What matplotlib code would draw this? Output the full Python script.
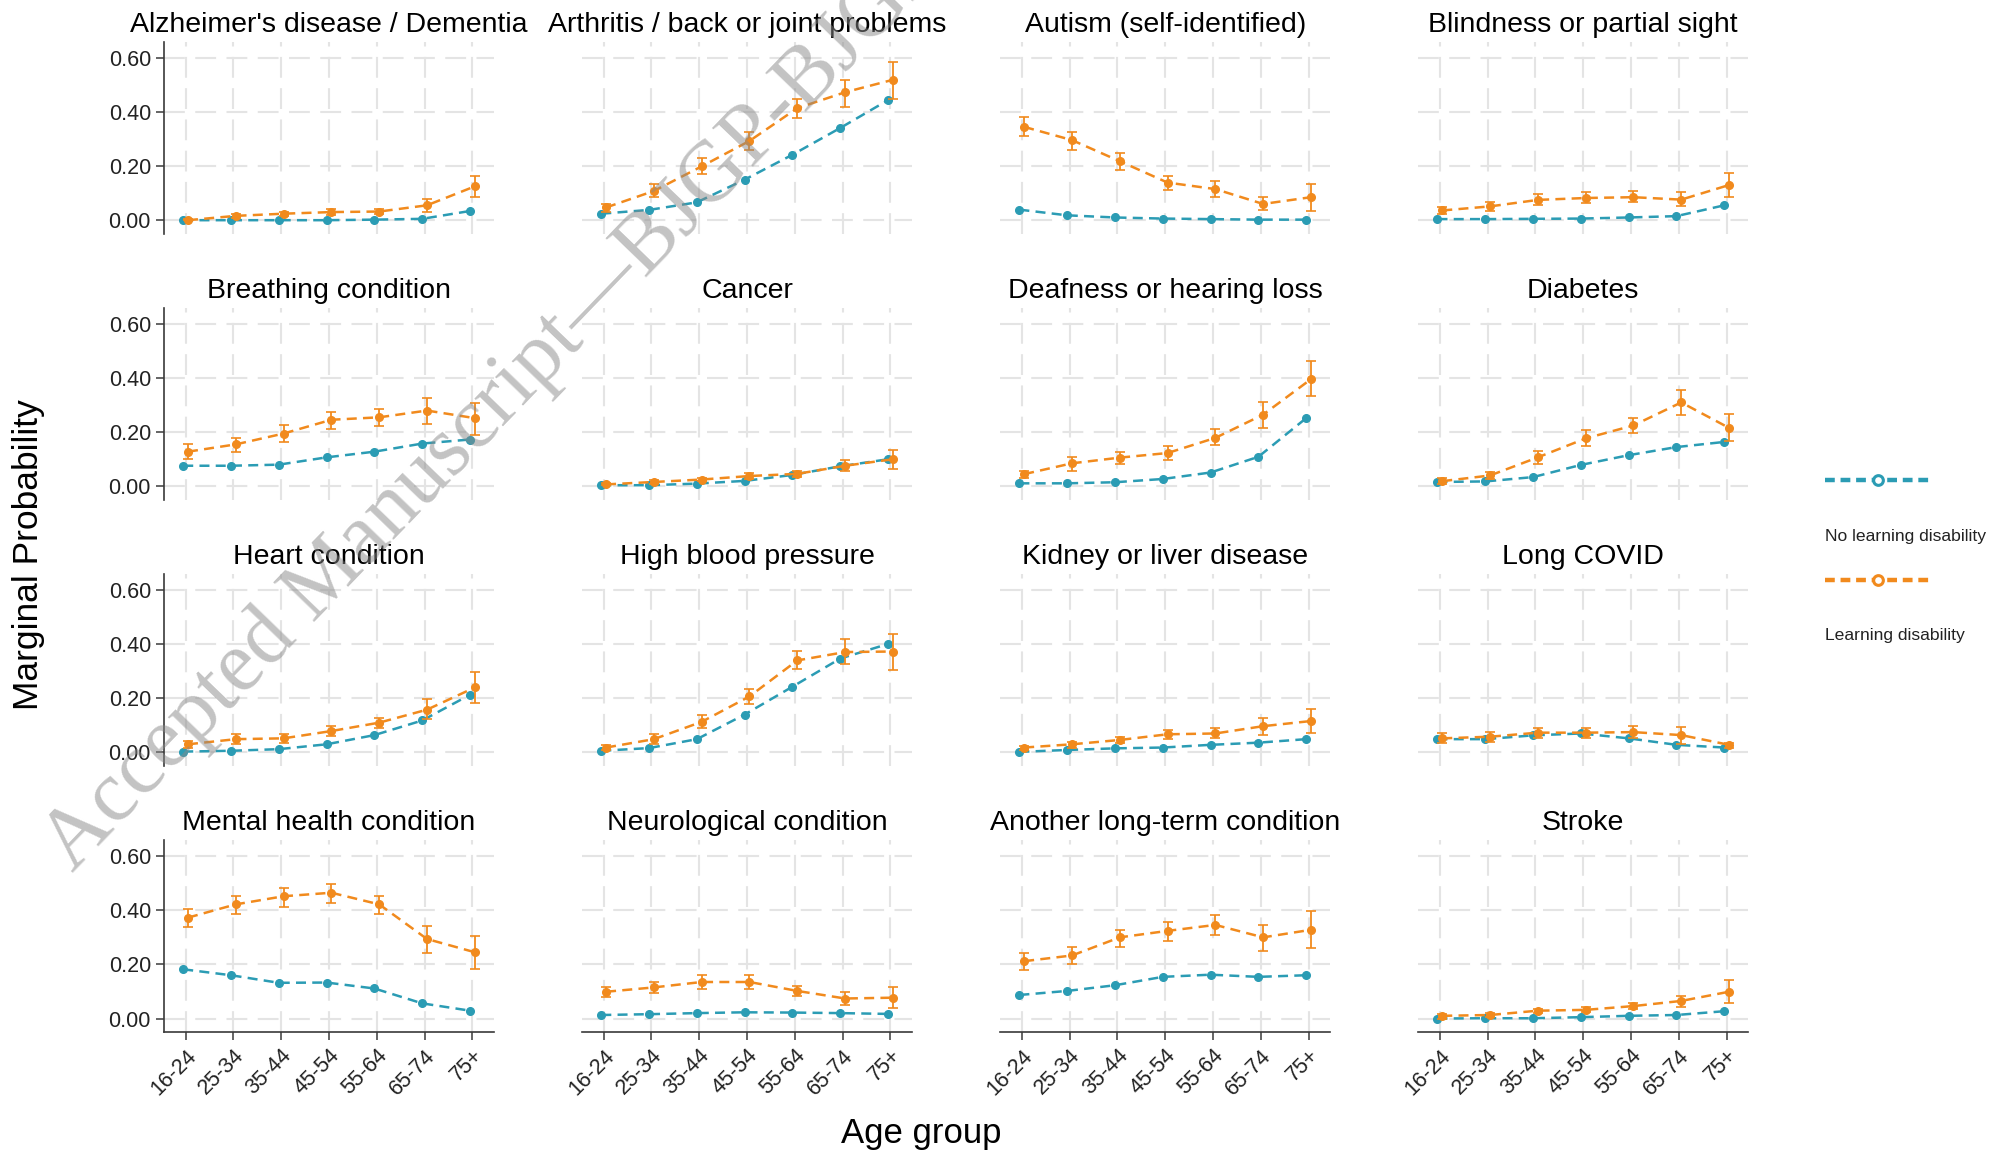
"""Marginal probability of long-term conditions by age group, with and without
learning disability (4x4 small multiples)."""
import matplotlib
matplotlib.use("Agg")
import matplotlib.pyplot as plt
import numpy as np

plt.rcParams["font.family"] = ["Liberation Sans", "DejaVu Sans"]

AGE_GROUPS = ["16-24", "25-34", "35-44", "45-54", "55-64", "65-74", "75+"]

CONDITIONS = [
    "Alzheimer's disease / Dementia", "Arthritis / back or joint problems",
    "Autism (self-identified)", "Blindness or partial sight",
    "Breathing condition", "Cancer", "Deafness or hearing loss", "Diabetes",
    "Heart condition", "High blood pressure", "Kidney or liver disease",
    "Long COVID", "Mental health condition", "Neurological condition",
    "Another long-term condition", "Stroke",
]

# no learning disability -- one row per condition, one value per age group
no_ld = [
    [0.000, 0.000, 0.000, 0.000, 0.002, 0.005, 0.034],
    [0.024, 0.038, 0.066, 0.150, 0.242, 0.341, 0.444],
    [0.039, 0.018, 0.010, 0.006, 0.004, 0.002, 0.002],
    [0.004, 0.004, 0.005, 0.006, 0.010, 0.015, 0.055],
    [0.076, 0.076, 0.080, 0.107, 0.128, 0.158, 0.173],
    [0.004, 0.004, 0.010, 0.020, 0.042, 0.074, 0.100],
    [0.011, 0.011, 0.015, 0.027, 0.051, 0.109, 0.252],
    [0.016, 0.018, 0.034, 0.079, 0.115, 0.145, 0.164],
    [0.003, 0.006, 0.012, 0.030, 0.064, 0.118, 0.213],
    [0.006, 0.016, 0.049, 0.140, 0.243, 0.347, 0.401],
    [0.002, 0.009, 0.015, 0.018, 0.028, 0.036, 0.049],
    [0.049, 0.049, 0.063, 0.070, 0.052, 0.028, 0.018],
    [0.182, 0.160, 0.132, 0.133, 0.111, 0.056, 0.029],
    [0.013, 0.016, 0.020, 0.023, 0.022, 0.020, 0.017],
    [0.087, 0.102, 0.123, 0.154, 0.162, 0.154, 0.160],
    [0.000, 0.001, 0.001, 0.005, 0.010, 0.013, 0.027],
]

# learning disability -- estimate and 95% CI bounds
ld = [
    [0.000, 0.016, 0.024, 0.030, 0.032, 0.055, 0.125],
    [0.047, 0.108, 0.199, 0.293, 0.414, 0.473, 0.519],
    [0.345, 0.296, 0.218, 0.139, 0.115, 0.060, 0.085],
    [0.036, 0.051, 0.075, 0.082, 0.085, 0.076, 0.130],
    [0.128, 0.155, 0.195, 0.246, 0.255, 0.280, 0.252],
    [0.007, 0.016, 0.025, 0.038, 0.046, 0.076, 0.100],
    [0.045, 0.085, 0.106, 0.123, 0.179, 0.265, 0.396],
    [0.019, 0.040, 0.107, 0.177, 0.225, 0.310, 0.216],
    [0.030, 0.049, 0.052, 0.079, 0.110, 0.158, 0.240],
    [0.018, 0.049, 0.113, 0.207, 0.340, 0.371, 0.373],
    [0.018, 0.030, 0.046, 0.067, 0.070, 0.097, 0.116],
    [0.052, 0.058, 0.073, 0.073, 0.075, 0.064, 0.028],
    [0.373, 0.422, 0.452, 0.465, 0.422, 0.294, 0.245],
    [0.099, 0.115, 0.135, 0.135, 0.102, 0.074, 0.077],
    [0.212, 0.233, 0.300, 0.324, 0.346, 0.300, 0.328],
    [0.010, 0.013, 0.029, 0.032, 0.046, 0.065, 0.099],
]
ld_lo = [
    [0.000, 0.008, 0.016, 0.020, 0.022, 0.030, 0.085],
    [0.031, 0.084, 0.170, 0.260, 0.377, 0.419, 0.449],
    [0.310, 0.260, 0.184, 0.113, 0.087, 0.039, 0.033],
    [0.022, 0.034, 0.055, 0.064, 0.067, 0.052, 0.085],
    [0.100, 0.128, 0.164, 0.210, 0.222, 0.230, 0.188],
    [0.003, 0.010, 0.018, 0.026, 0.036, 0.055, 0.064],
    [0.030, 0.057, 0.082, 0.098, 0.152, 0.216, 0.332],
    [0.010, 0.028, 0.082, 0.149, 0.198, 0.264, 0.167],
    [0.016, 0.030, 0.036, 0.060, 0.089, 0.122, 0.182],
    [0.009, 0.030, 0.089, 0.179, 0.310, 0.325, 0.304],
    [0.009, 0.018, 0.033, 0.049, 0.052, 0.064, 0.073],
    [0.033, 0.040, 0.055, 0.055, 0.055, 0.030, 0.018],
    [0.337, 0.385, 0.413, 0.428, 0.385, 0.241, 0.182],
    [0.078, 0.093, 0.109, 0.109, 0.084, 0.050, 0.038],
    [0.180, 0.202, 0.263, 0.288, 0.309, 0.251, 0.261],
    [0.000, 0.005, 0.020, 0.023, 0.034, 0.044, 0.056],
]
ld_hi = [
    [0.004, 0.024, 0.032, 0.040, 0.042, 0.079, 0.164],
    [0.060, 0.134, 0.230, 0.325, 0.449, 0.520, 0.585],
    [0.380, 0.327, 0.250, 0.164, 0.145, 0.085, 0.133],
    [0.050, 0.067, 0.095, 0.103, 0.107, 0.103, 0.173],
    [0.155, 0.180, 0.225, 0.275, 0.285, 0.325, 0.307],
    [0.011, 0.022, 0.032, 0.049, 0.055, 0.098, 0.135],
    [0.057, 0.108, 0.128, 0.149, 0.210, 0.311, 0.462],
    [0.029, 0.052, 0.130, 0.207, 0.252, 0.355, 0.268],
    [0.043, 0.067, 0.067, 0.097, 0.128, 0.198, 0.296],
    [0.028, 0.067, 0.140, 0.234, 0.375, 0.420, 0.436],
    [0.025, 0.040, 0.058, 0.084, 0.089, 0.128, 0.160],
    [0.070, 0.075, 0.091, 0.091, 0.097, 0.094, 0.036],
    [0.404, 0.452, 0.483, 0.499, 0.452, 0.343, 0.306],
    [0.117, 0.135, 0.162, 0.162, 0.121, 0.099, 0.117],
    [0.241, 0.263, 0.327, 0.357, 0.383, 0.346, 0.398],
    [0.018, 0.022, 0.037, 0.041, 0.058, 0.084, 0.144],
]

BLUE = "#2b9cb4"
ORANGE = "#f18a1d"
GRID = "#e4e4e4"
SPINE = "#3a3a3a"

fig = plt.figure(figsize=(20.11, 11.57), dpi=100)

x = np.arange(len(AGE_GROUPS))
left0, colstep, w = 0.0816, 0.2079, 0.164
top_bottom, rowstep, h = 0.798, 0.2300, 0.166

for i, name in enumerate(CONDITIONS):
    r, c = divmod(i, 4)
    ax = fig.add_axes([left0 + c * colstep, top_bottom - r * rowstep, w, h])

    # grid first
    ax.set_axisbelow(True)
    ax.grid(True, color=GRID, lw=1.5, ls=(0, (10, 5)))

    ax.plot(x - 0.05, no_ld[i], color=BLUE, lw=1.8, ls=(0, (4, 2.5)),
            marker="o", ms=5.5, zorder=3)
    est = np.array(ld[i])
    err = [est - np.array(ld_lo[i]), np.array(ld_hi[i]) - est]
    ax.errorbar(x + 0.05, est, yerr=err, color=ORANGE, lw=1.8,
                ls=(0, (4, 2.5)), marker="o", ms=5.5, capsize=3.5,
                elinewidth=1.3, capthick=1.2, zorder=4)

    ax.set_xlim(-0.45, 6.45)
    ax.set_ylim(-0.05, 0.66)
    ax.set_xticks(x)
    ax.set_yticks([0, 0.2, 0.4, 0.6])
    ax.set_yticklabels(["0.00", "0.20", "0.40", "0.60"])
    ax.set_xticklabels(AGE_GROUPS, rotation=45, ha="right",
                       rotation_mode="anchor")
    ax.set_title(name, fontsize=20.5, pad=7)

    for s in ("top", "right"):
        ax.spines[s].set_visible(False)
    for s in ("left", "bottom"):
        ax.spines[s].set_color(SPINE)
        ax.spines[s].set_linewidth(1.2)

    ax.tick_params(axis="both", labelsize=15.5, length=6, width=1.1,
                   color=SPINE, labelcolor="#222222")
    if c != 0:
        ax.spines["left"].set_visible(False)
        ax.tick_params(axis="y", left=False, labelleft=False)
    if r != 3:
        ax.spines["bottom"].set_visible(False)
        ax.tick_params(axis="x", bottom=False, labelbottom=False)

fig.text(0.014, 0.521, "Marginal Probability", rotation=90, fontsize=25.5,
         ha="center", va="center")
fig.text(0.458, 0.020, "Age group", fontsize=25, ha="center", va="center")

# legend: handle above its label
leg = fig.add_axes([0.9, 0.40, 0.1, 0.22])
leg.set_xlim(0, 1)
leg.set_ylim(0, 1)
leg.axis("off")
items = [(BLUE, "No learning disability", 0.84, 0.62),
         (ORANGE, "Learning disability", 0.45, 0.23)]
for col, label, y_line, y_text in items:
    leg.plot([0.075, 0.60], [y_line, y_line], color=col, lw=3.2,
             ls=(0, (2.2, 1.3)), solid_capstyle="butt")
    leg.plot([0.34], [y_line], marker="o", ms=7, mfc="white", mec=col,
             mew=2.2, ls="none")
    leg.text(0.075, y_text, label, fontsize=12.6, ha="left", va="center",
             color="#222222")

# watermark
fig.text(0.036, 0.246, "Accepted Manuscript\u2014BJGP-BJGP.2024",
         rotation=46, rotation_mode="anchor", ha="left", va="baseline",
         fontsize=62, family="Liberation Serif", color="#888888", alpha=0.5,
         zorder=10)

fig.savefig("out.png", dpi=100)
